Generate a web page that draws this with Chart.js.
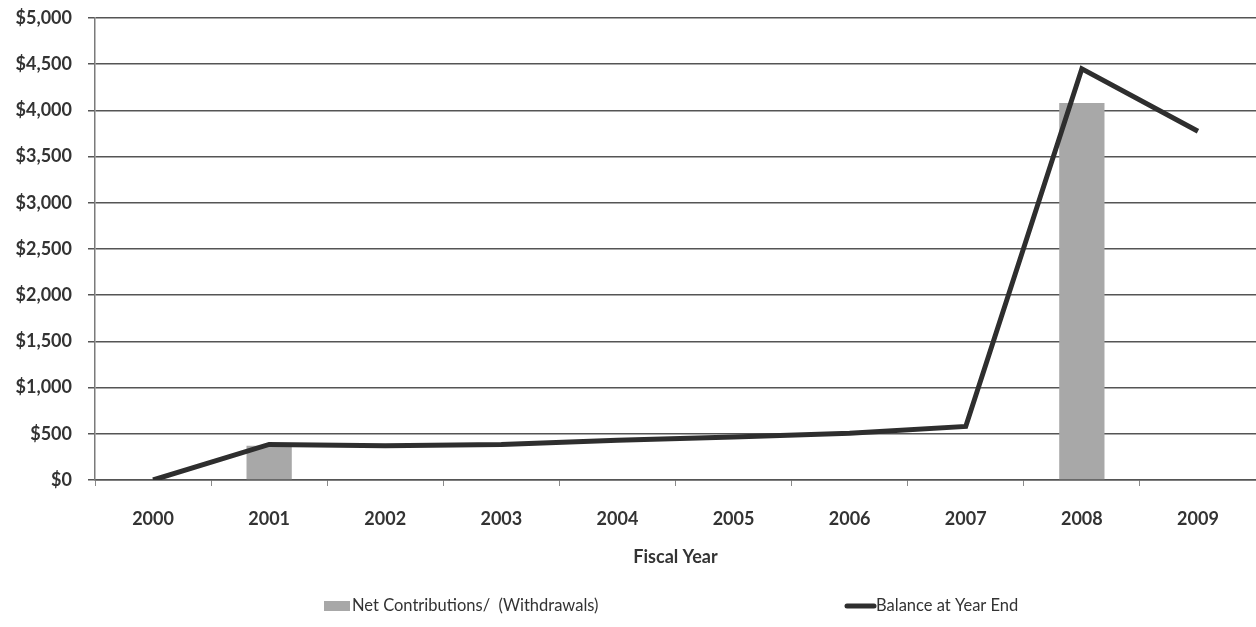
<!DOCTYPE html>
<html>
<head>
<meta charset="utf-8">
<script src="https://cdn.jsdelivr.net/npm/chart.js@4/dist/chart.umd.min.js"></script>
<style>
  html, body { margin: 0; padding: 0; background: #ffffff; }
  #wrap { position: relative; width: 1256px; height: 627px; }
</style>
</head>
<body>
<div id="wrap"><canvas id="chart"></canvas></div>
<script>
// Fiscal years on the category axis
const fiscalYears = ['2000', '2001', '2002', '2003', '2004', '2005', '2006', '2007', '2008', '2009'];

// Net contributions / (withdrawals) for each year
const netContributions = [0, 370, 0, 0, 0, 0, 0, 0, 4080, 0];

// Fund balance at each year end
const balanceAtYearEnd = [0, 385, 370, 385, 430, 465, 505, 580, 4450, 3775];

// Value axis ticks
const yTickValues = [0, 500, 1000, 1500, 2000, 2500, 3000, 3500, 4000, 4500, 5000];

const seriesNames = ['Net Contributions/  (Withdrawals)', 'Balance at Year End'];
const axisTitle = 'Fiscal Year';

const textColor = '#333333';
const gridColor = '#555555';
const barColor = '#a8a8a8';
const lineColor = '#2e2e2e';
const tickFont = { family: 'Lato', size: 18, weight: 'bold' };

function money(v) {
  return '$' + Number(v).toLocaleString('en-US');
}

// Legend drawn under the axis title, two items spread across the row
const bottomLegend = {
  id: 'bottomLegend',
  afterDraw(chart) {
    const ctx = chart.ctx;
    const y = 606;
    ctx.save();
    ctx.font = '16.5px Lato';
    ctx.textBaseline = 'middle';
    ctx.textAlign = 'left';

    // bar swatch
    ctx.fillStyle = barColor;
    ctx.fillRect(324, y - 5, 26, 10);
    ctx.fillStyle = textColor;
    ctx.fillText(seriesNames[0], 352, y);

    // line swatch
    ctx.strokeStyle = lineColor;
    ctx.lineWidth = 5;
    ctx.lineCap = 'round';
    ctx.beginPath();
    ctx.moveTo(847, y);
    ctx.lineTo(874, y);
    ctx.stroke();
    ctx.fillText(seriesNames[1], 876, y);
    ctx.restore();
  }
};

new Chart(document.getElementById('chart'), {
  type: 'bar',
  data: {
    labels: fiscalYears,
    datasets: [
      {
        type: 'line',
        label: seriesNames[1],
        data: balanceAtYearEnd,
        borderColor: lineColor,
        backgroundColor: lineColor,
        borderWidth: 5,
        pointRadius: 0,
        tension: 0,
        borderJoinStyle: 'miter',
        order: 0
      },
      {
        type: 'bar',
        label: seriesNames[0],
        data: netContributions,
        backgroundColor: barColor,
        borderWidth: 0,
        barPercentage: 0.39,
        categoryPercentage: 1,
        order: 1
      }
    ]
  },
  options: {
    responsive: true,
    maintainAspectRatio: false,
    animation: false,
    layout: { padding: { top: 18, right: 0, bottom: 0, left: 0 } },
    plugins: {
      legend: { display: false },
      tooltip: { enabled: false },
      title: { display: false }
    },
    scales: {
      x: {
        offset: true,
        grid: {
          offset: true,
          drawOnChartArea: false,
          drawTicks: true,
          tickLength: 6,
          tickColor: '#8a8a8a',
          tickWidth: 1
        },
        border: { display: true, color: gridColor, width: 1.5 },
        ticks: {
          color: textColor,
          font: tickFont,
          padding: 22,
          maxRotation: 0,
          autoSkip: false
        },
        title: {
          display: true,
          text: axisTitle,
          color: textColor,
          font: { family: 'Lato', size: 18, weight: 'bold' },
          padding: { top: 0, bottom: 59 }
        },
        afterFit(scale) {
          scale.height = 147;
          scale.paddingLeft = 0;
          scale.paddingRight = 0;
        }
      },
      y: {
        min: 0,
        max: 5000,
        afterBuildTicks(scale) {
          scale.ticks = yTickValues.map(v => ({ value: v }));
        },
        grid: {
          color: gridColor,
          lineWidth: 1.5,
          drawTicks: true,
          tickLength: 7,
          tickColor: gridColor
        },
        border: { display: true, color: '#7a7a7a', width: 1.5 },
        ticks: {
          color: textColor,
          font: tickFont,
          padding: 16,
          callback: (v) => money(v)
        },
        afterFit(scale) {
          scale.width = 95;
          scale.paddingTop = 0;
          scale.paddingBottom = 0;
        }
      }
    }
  },
  plugins: [bottomLegend]
});
</script>
</body>
</html>
